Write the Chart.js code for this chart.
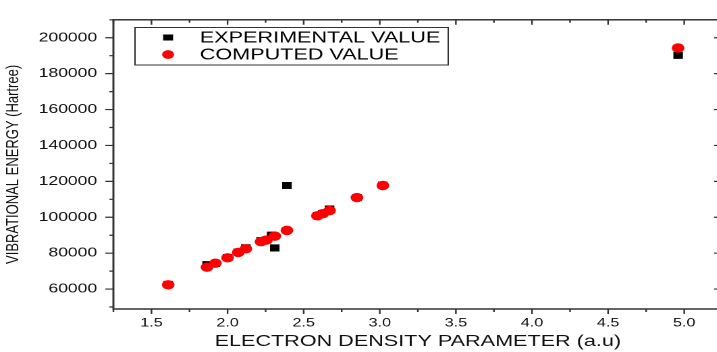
<!DOCTYPE html>
<html>
<head>
<meta charset="utf-8">
<script src="https://cdn.jsdelivr.net/npm/chart.js@4/dist/chart.umd.min.js"></script>
<style>
  html, body { margin: 0; padding: 0; background: #fff; overflow: hidden; }
  /* the source picture is stretched sideways, so draw narrow and widen it */
  #wrap { width: 540px; height: 352px; transform: scaleX(1.35); transform-origin: 0 0; }
</style>
</head>
<body>
<div id="wrap"><canvas id="chart" width="540" height="352"></canvas></div>
<script>
// values
const expX = [1.61, 1.865, 1.92, 2.0, 2.07, 2.12, 2.22, 2.255, 2.29, 2.31, 2.39, 2.59, 2.625, 2.67, 2.85, 3.02, 4.96];
const expY = [62600, 73600, 74300, 77600, 80600, 83000, 87000, 87400, 90000, 82900, 117700, 100900, 102100, 104600, 111000, 117900, 190200];
const compX = [1.61, 1.865, 1.92, 2.0, 2.07, 2.12, 2.22, 2.255, 2.31, 2.39, 2.59, 2.625, 2.67, 2.85, 3.02, 4.96];
const compY = [62400, 72200, 74400, 77400, 80400, 82400, 86400, 87300, 89500, 92700, 100800, 102000, 103700, 111000, 117700, 194300];
const xTicks = [1.5, 2.0, 2.5, 3.0, 3.5, 4.0, 4.5, 5.0];
const yTicks = [60000, 80000, 100000, 120000, 140000, 160000, 180000, 200000];

const FONT = 'Liberation Sans, Arial, sans-serif';

// axis frame with major/minor ticks on all four sides
const framePlugin = {
  id: 'frame',
  beforeDatasetsDraw(chart) {
    const ctx = chart.ctx;
    const a = chart.chartArea;
    const xs = chart.scales.x, ys = chart.scales.y;
    ctx.save();
    ctx.strokeStyle = '#333';
    ctx.lineWidth = 1.5;
    ctx.strokeRect(a.left, a.top, a.right - a.left, a.bottom - a.top);
    ctx.lineWidth = 1.2;
    ctx.beginPath();
    for (let v = xs.min; v <= xs.max + 1e-9; v += 0.25) {
      const px = xs.getPixelForValue(v);
      const major = xTicks.some(t => Math.abs(t - v) < 1e-6);
      const len = major ? 5 : 3;
      ctx.moveTo(px, a.bottom); ctx.lineTo(px, a.bottom + len);
      ctx.moveTo(px, a.top); ctx.lineTo(px, a.top + len);
    }
    for (let v = 50000; v <= ys.max; v += 10000) {
      const py = ys.getPixelForValue(v);
      const major = yTicks.includes(v);
      const len = major ? 6 : 3;
      ctx.moveTo(a.left, py); ctx.lineTo(a.left - len, py);
      ctx.moveTo(a.right, py); ctx.lineTo(a.right - len, py);
    }
    ctx.stroke();
    ctx.restore();
  }
};

// boxed legend inside the plot, top left
const legendPlugin = {
  id: 'boxLegend',
  afterDraw(chart) {
    const ctx = chart.ctx;
    ctx.save();
    ctx.strokeStyle = '#333';
    ctx.lineWidth = 1;
    ctx.strokeRect(100, 27.5, 232, 37.5);
    ctx.font = '16px ' + FONT;
    ctx.textBaseline = 'middle';
    ctx.fillStyle = '#000';
    const rows = [37.5, 54.5];
    chart.data.datasets.forEach((ds, i) => {
      const y = rows[i];
      ctx.fillStyle = ds.backgroundColor;
      if (ds.pointStyle === 'rect') {
        ctx.fillRect(124.5 - 3.7, y - 3, 7.4, 6);
      } else {
        ctx.beginPath();
        ctx.arc(124.5, y, 4.4, 0, Math.PI * 2);
        ctx.fill();
      }
      ctx.fillStyle = '#000';
      ctx.fillText(ds.label, 148, y + 0.5);
    });
    ctx.restore();
  }
};

new Chart(document.getElementById('chart'), {
  type: 'scatter',
  data: {
    datasets: [
      {
        label: 'EXPERIMENTAL VALUE',
        data: expX.map((x, i) => ({ x: x, y: expY[i] })),
        pointStyle: 'rect',
        pointRadius: 5,
        backgroundColor: '#000',
        borderColor: '#000',
        borderWidth: 0,
        order: 1
      },
      {
        label: 'COMPUTED VALUE',
        data: compX.map((x, i) => ({ x: x, y: compY[i] })),
        pointStyle: 'circle',
        pointRadius: 4.7,
        backgroundColor: '#ff0000',
        borderColor: '#ff0000',
        borderWidth: 0,
        order: 0
      }
    ]
  },
  options: {
    responsive: false,
    animation: false,
    devicePixelRatio: 2,
    layout: { padding: { top: 14, right: 3, bottom: 0, left: 0 } },
    plugins: { legend: { display: false }, tooltip: { enabled: false } },
    scales: {
      x: {
        type: 'linear',
        min: 1.25,
        max: 5.25,
        afterBuildTicks: (s) => { s.ticks = xTicks.map(v => ({ value: v })); },
        afterFit: (s) => { s.height = 43; },
        grid: { display: false, drawTicks: false },
        border: { display: false },
        ticks: {
          padding: 7,
          color: '#111',
          font: { family: FONT, size: 12 },
          callback: (v) => Number(v).toFixed(1)
        },
        title: {
          display: true,
          text: 'ELECTRON DENSITY PARAMETER (a.u)',
          color: '#111',
          font: { family: FONT, size: 16 },
          padding: { top: 0, bottom: 1 }
        }
      },
      y: {
        type: 'linear',
        min: 48900,
        max: 210000,
        afterBuildTicks: (s) => { s.ticks = yTicks.map(v => ({ value: v })); },
        afterFit: (s) => { s.width = 84; },
        grid: { display: false, drawTicks: false },
        border: { display: false },
        ticks: {
          padding: 12,
          color: '#111',
          font: { family: FONT, size: 13 },
          callback: (v) => String(v)
        },
        title: {
          display: true,
          text: 'VIBRATIONAL ENERGY (Hartree)',
          color: '#111',
          font: { family: FONT, size: 13 },
          padding: { top: 2, bottom: 0 }
        }
      }
    }
  },
  plugins: [framePlugin, legendPlugin]
});
</script>
</body>
</html>
